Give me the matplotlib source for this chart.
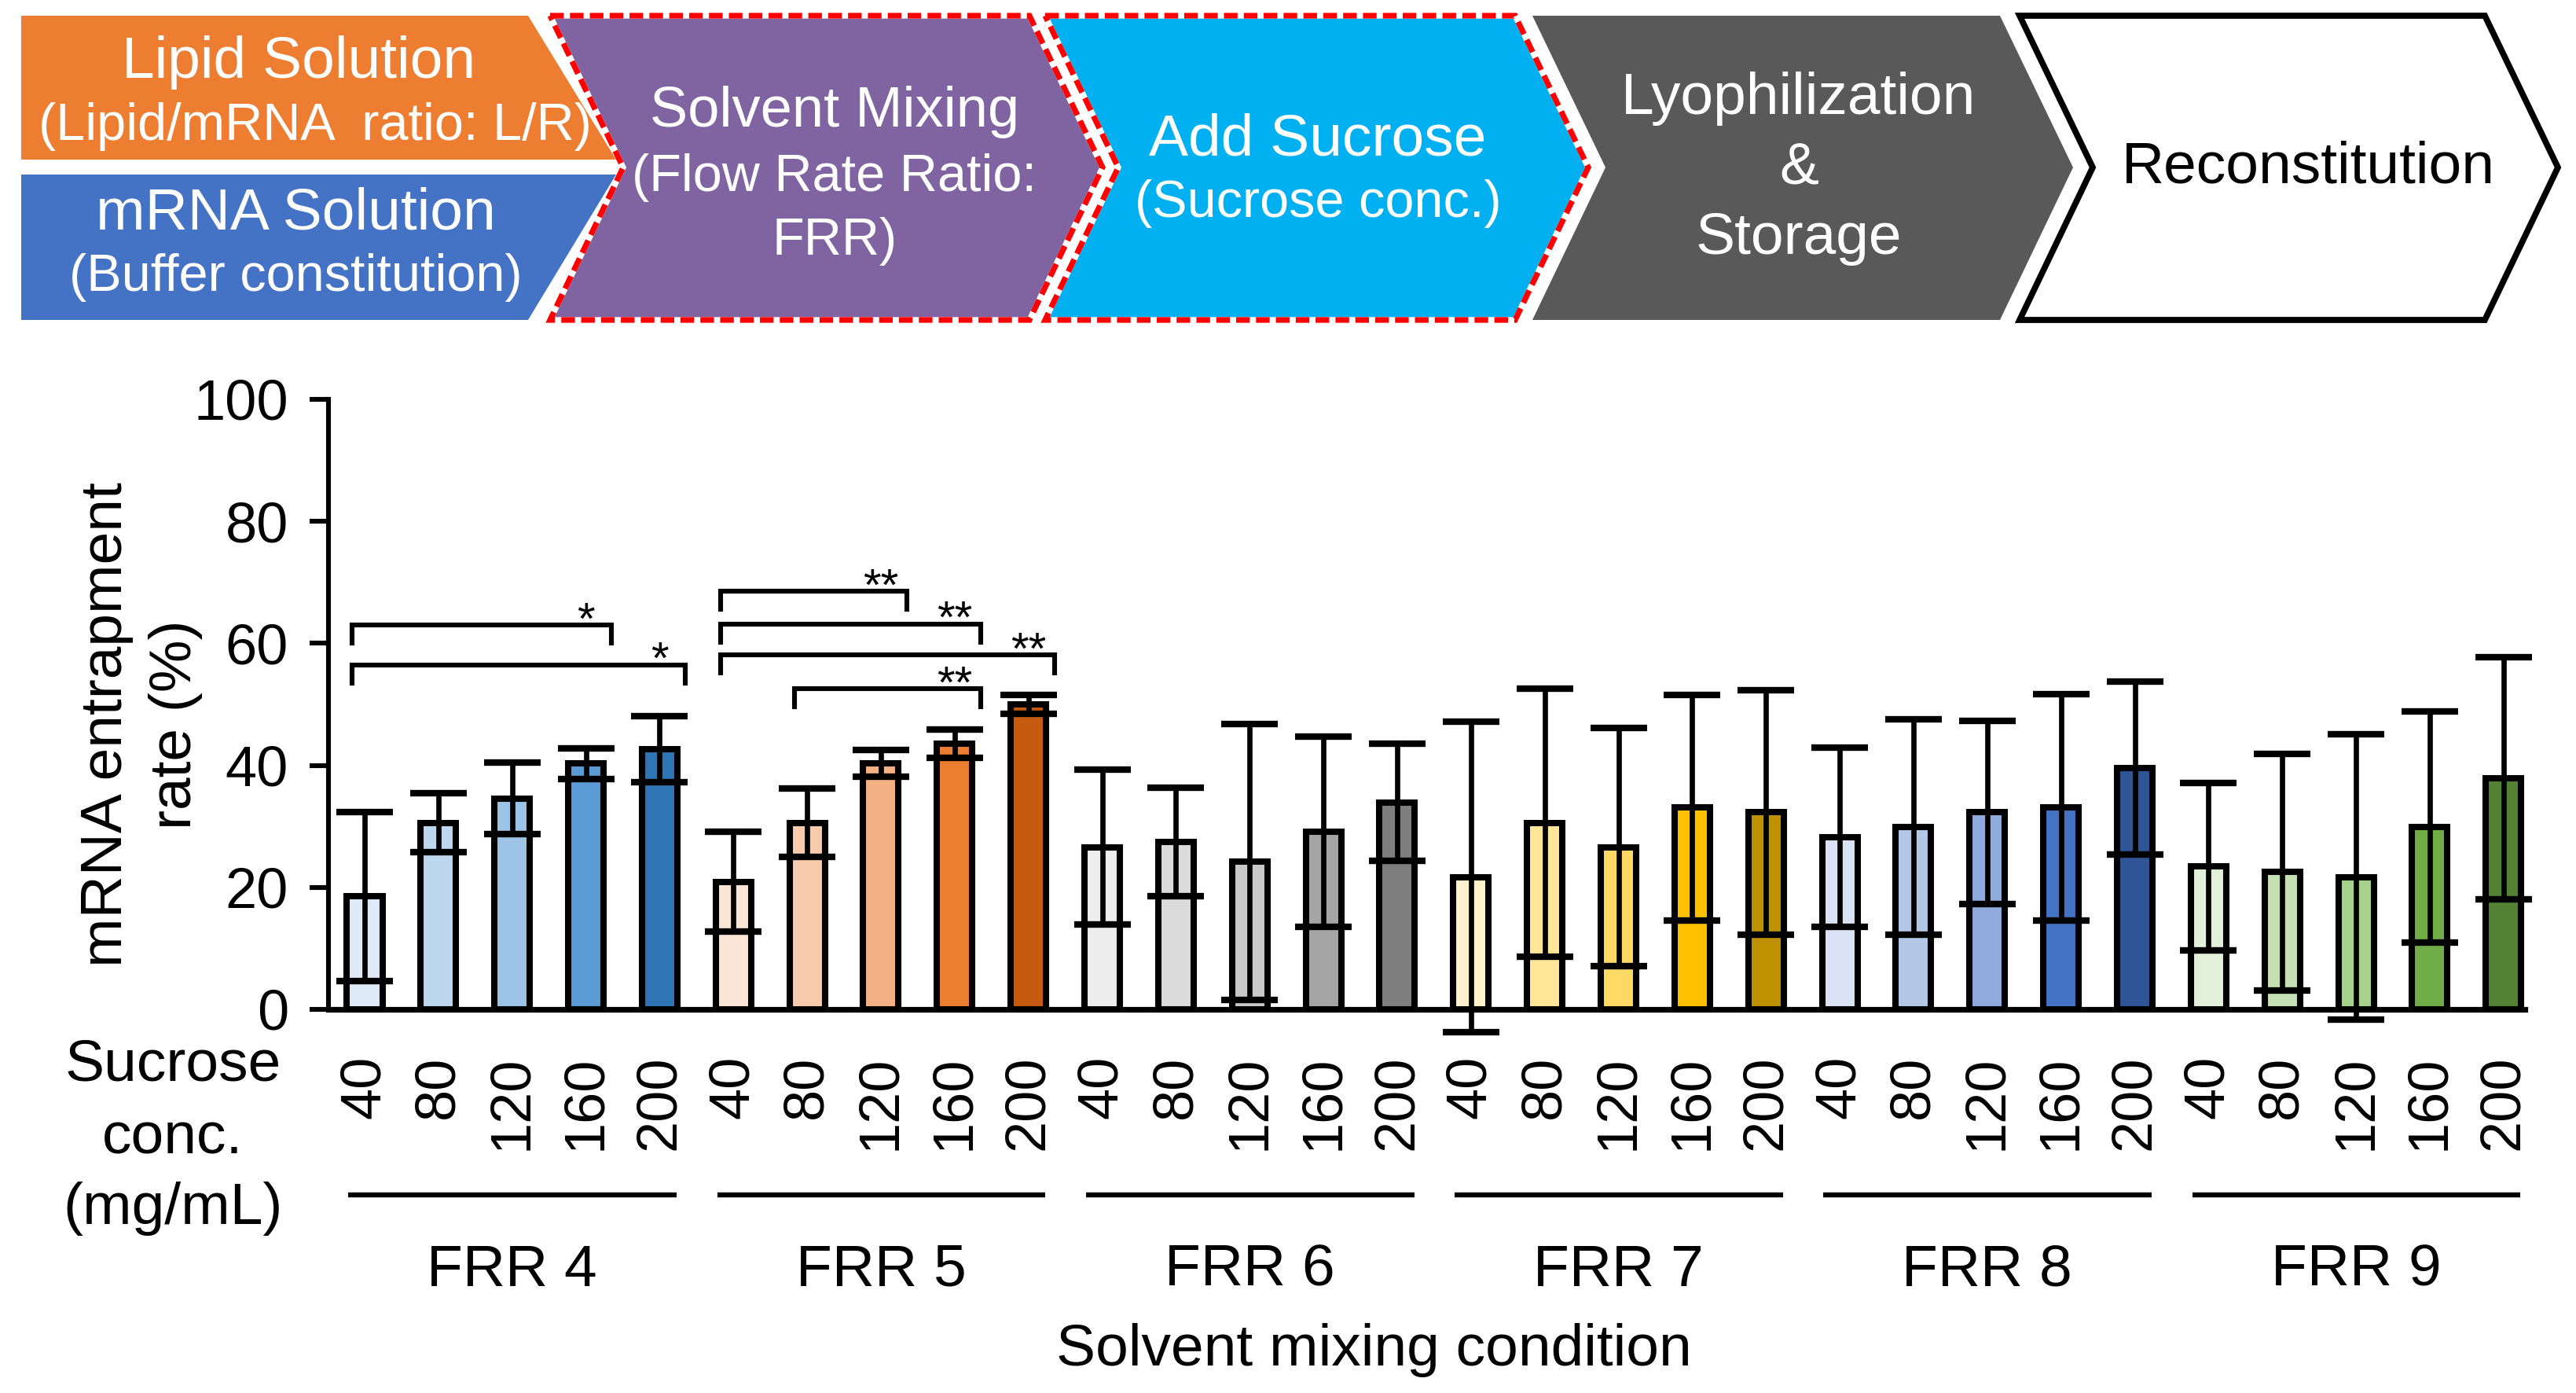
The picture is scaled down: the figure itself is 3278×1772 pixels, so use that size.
import numpy as np
import matplotlib
matplotlib.use("Agg")
import matplotlib.pyplot as plt
from matplotlib.patches import Polygon

plt.rcParams['font.family'] = ['Liberation Sans', 'DejaVu Sans']

# ================================
# DATA
# ================================
sucrose = [40, 80, 120, 160, 200]          # mg/mL, one bar per value inside each FRR group
frr_labels = ["FRR 4", "FRR 5", "FRR 6", "FRR 7", "FRR 8", "FRR 9"]

# mean entrapment rate (%) and SD
mean_frr4 = [18.5, 30.6, 34.6, 40.3, 42.7]
sd_frr4   = [13.8, 4.8, 5.8, 2.5, 5.4]
mean_frr5 = [20.9, 30.6, 40.3, 43.6, 50.0]
sd_frr5   = [8.2, 5.6, 2.2, 2.3, 1.5]
mean_frr6 = [26.6, 27.4, 24.2, 29.1, 33.9]
sd_frr6   = [12.7, 8.9, 22.6, 15.6, 9.6]
mean_frr7 = [21.7, 30.6, 26.6, 33.1, 32.3]
sd_frr7   = [25.5, 22.0, 19.5, 18.5, 20.0]
mean_frr8 = [28.2, 29.9, 32.3, 33.1, 39.6]
sd_frr8   = [14.7, 17.7, 15.0, 18.6, 14.2]
mean_frr9 = [23.4, 22.5, 21.7, 29.9, 37.9]
sd_frr9   = [13.7, 19.4, 23.4, 19.0, 19.8]

colors_frr4 = ["#DEEBF7", "#BDD7EE", "#9DC3E6", "#5B9BD5", "#2E75B6"]
colors_frr5 = ["#FBE5D6", "#F8CBAD", "#F4B183", "#ED7D31", "#C55A11"]
colors_frr6 = ["#EDEDED", "#DBDBDB", "#C9C9C9", "#A5A5A5", "#7F7F7F"]
colors_frr7 = ["#FFF2CC", "#FFE699", "#FFD966", "#FFC000", "#BF9000"]
colors_frr8 = ["#DAE3F3", "#B4C7E7", "#8FAADC", "#4472C4", "#2F5597"]
colors_frr9 = ["#E2F0D9", "#C5E0B4", "#A9D18E", "#70AD47", "#548235"]

# significance brackets: (first bar, last bar, bracket height %, label), bars counted 0..29
sig_pairs = [(0, 3, 63.0, "*"), (0, 4, 56.5, "*"),
             (5, 7, 68.6, "**"), (5, 8, 63.2, "**"), (5, 9, 58.1, "**"), (6, 8, 52.6, "**")]

means = np.concatenate([mean_frr4, mean_frr5, mean_frr6, mean_frr7, mean_frr8, mean_frr9])
sds = np.concatenate([sd_frr4, sd_frr5, sd_frr6, sd_frr7, sd_frr8, sd_frr9])
colors = colors_frr4 + colors_frr5 + colors_frr6 + colors_frr7 + colors_frr8 + colors_frr9
tick_text = [str(s) for s in sucrose] * len(frr_labels)
x = np.arange(len(means))

# ================================
# FIGURE
# ================================
W, H = 3278, 1772
fig = plt.figure(figsize=(W / 200, H / 200), dpi=200)

# --- process flow banner (pixel coordinates) ---
dax = fig.add_axes([0, 0, 1, 1])
dax.set_xlim(0, W)
dax.set_ylim(H, 0)
dax.axis('off')

top, mid, bot, d = 20, 213, 407, 93

def chevron(L, R):
    return [(L, top), (R, top), (R + d, mid), (R, bot), (L, bot), (L + d, mid)]

dax.add_patch(Polygon([(27, 20), (672, 20), (784, 203), (27, 203)], closed=True, fc="#ED7D31", ec="none"))
dax.add_patch(Polygon([(27, 222), (784, 222), (672, 407), (27, 407)], closed=True, fc="#4472C4", ec="none"))

for L, R, fc in [(700, 1310, "#8064A2"), (1330, 1928, "#00B0F0")]:
    pts = chevron(L, R)
    dax.add_patch(Polygon(pts, closed=True, fc=fc, ec="none"))
    dax.add_patch(Polygon(pts, closed=True, fill=False, ec="white", lw=2.6))
    dax.add_patch(Polygon(pts, closed=True, fill=False, ec="#FF0000", lw=2.6,
                          linestyle=(0, (2.4, 1.1)), joinstyle='miter'))

dax.add_patch(Polygon(chevron(1950, 2545), closed=True, fc="#595959", ec="none"))
dax.add_patch(Polygon(chevron(2570, 3162), closed=True, fc="white", ec="black", lw=2.8, joinstyle='miter'))

banner_text = [
    (380, 79, "Lipid Solution", 27, "white"),
    (401, 161, "(Lipid/mRNA  ratio: L/R)", 24, "white"),
    (376, 272, "mRNA Solution", 27, "white"),
    (376, 353, "(Buffer constitution)", 24, "white"),
    (1062, 142, "Solvent Mixing", 26, "white"),
    (1062, 226, "(Flow Rate Ratio:", 24, "white"),
    (1062, 307, "FRR)", 24, "white"),
    (1677, 178, "Add Sucrose", 27, "white"),
    (1677, 259, "(Sucrose conc.)", 24, "white"),
    (2289, 125, "Lyophilization", 27, "white"),
    (2289, 215, "&", 27, "white"),
    (2289, 303, "Storage", 27, "white"),
    (2937, 213, "Reconstitution", 27, "black"),
]
for tx, ty, s, fs, c in banner_text:
    dax.text(tx, ty, s, fontsize=fs, color=c, ha='center', va='center')

# --- bar chart ---
ax = fig.add_axes([418 / W, 1 - 1284 / H, (3213 - 418) / W, (1284 - 508) / H])
ax.bar(x, means, width=0.48, color=colors, edgecolor='black', linewidth=2.9, zorder=2)
eb = ax.errorbar(x, means, yerr=sds, fmt='none', ecolor='black', elinewidth=2.4,
                 capsize=13, capthick=3.0, zorder=3)
for art in list(eb[1]) + list(eb[2]):
    art.set_clip_on(False)

ax.set_xlim(-0.49, 29.29)
ax.set_ylim(0, 100)
ax.set_yticks([0, 20, 40, 60, 80, 100])
ax.set_xticks(x)
ax.set_xticklabels(tick_text, rotation=90, fontsize=26)
ax.tick_params(axis='x', length=0, pad=21)
ax.tick_params(axis='y', labelsize=26, length=8.6, width=2.2, pad=9.7)
ax.spines['top'].set_visible(False)
ax.spines['right'].set_visible(False)
ax.spines['left'].set_linewidth(2.2)
ax.spines['bottom'].set_linewidth(2.6)

# significance brackets
for i, j, h, lab in sig_pairs:
    ax.plot([i - 0.17, i - 0.17, j + 0.35, j + 0.35], [h - 3, h, h, h - 3],
            color='black', lw=2.2, solid_joinstyle='miter', clip_on=False)
    ax.text(j, h - 1.5, lab, fontsize=21, ha='center', va='baseline')

# group lines and FRR labels under the sucrose ticks
xt = ax.get_xaxis_transform()
for g, lab in enumerate(frr_labels):
    ax.plot([5 * g - 0.22, 5 * g + 4.23], [-0.304, -0.304], transform=xt, color='black',
            lw=2.3, solid_capstyle='butt', clip_on=False)
    ax.text(5 * g + 2, -0.428, lab, transform=xt, fontsize=27, ha='center', va='center')

fig.text(1748 / W, 1 - 1718 / H, "Solvent mixing condition", fontsize=27, ha='center', va='center')

for ty, s in [(1355, "Sucrose"), (1448, "conc."), (1538, "(mg/mL)")]:
    fig.text(220 / W, 1 - ty / H, s, fontsize=27, ha='center', va='center')

fig.text(136 / W, 1 - 922 / H, "mRNA entrapment", fontsize=27, rotation=90, ha='center', va='center')
fig.text(224 / W, 1 - 922 / H, "rate (%)", fontsize=27, rotation=90, ha='center', va='center')

fig.savefig("out.png", dpi=200)
